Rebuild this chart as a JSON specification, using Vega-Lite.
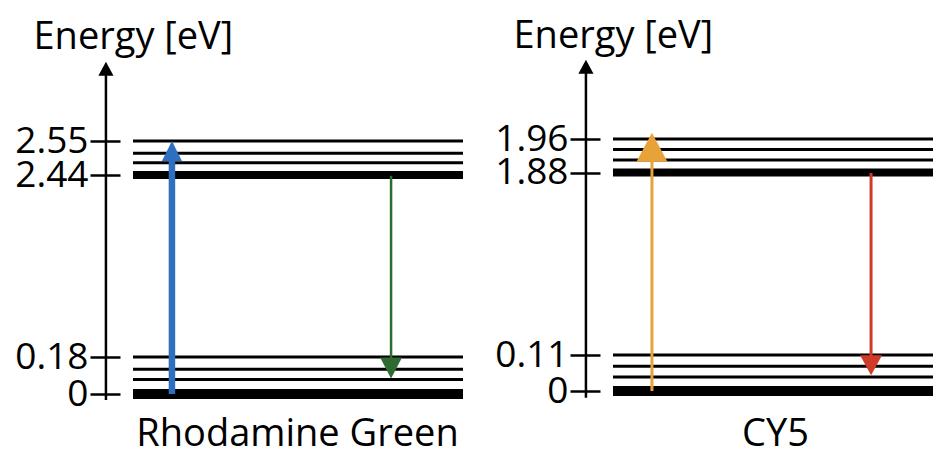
{
  "$schema": "https://vega.github.io/schema/vega-lite/v6.json",
  "background": "white",
  "padding": 0,
  "spacing": 0,
  "bounds": "flush",
  "config": {"view": {"stroke": null}, "font": "Open Sans"},
  "datasets": {
    "levels": [
      {"dye": "Rhodamine Green", "state": "S0", "vib": 0, "energy": 0},
      {"dye": "Rhodamine Green", "state": "S0", "vib": 1, "energy": 0.07},
      {"dye": "Rhodamine Green", "state": "S0", "vib": 2, "energy": 0.12},
      {"dye": "Rhodamine Green", "state": "S0", "vib": 3, "energy": 0.18},
      {"dye": "Rhodamine Green", "state": "S1", "vib": 0, "energy": 2.44},
      {"dye": "Rhodamine Green", "state": "S1", "vib": 1, "energy": 2.48},
      {"dye": "Rhodamine Green", "state": "S1", "vib": 2, "energy": 2.51},
      {"dye": "Rhodamine Green", "state": "S1", "vib": 3, "energy": 2.55},
      {"dye": "CY5", "state": "S0", "vib": 0, "energy": 0},
      {"dye": "CY5", "state": "S0", "vib": 1, "energy": 0.043},
      {"dye": "CY5", "state": "S0", "vib": 2, "energy": 0.076},
      {"dye": "CY5", "state": "S0", "vib": 3, "energy": 0.11},
      {"dye": "CY5", "state": "S1", "vib": 0, "energy": 1.88},
      {"dye": "CY5", "state": "S1", "vib": 1, "energy": 1.91},
      {"dye": "CY5", "state": "S1", "vib": 2, "energy": 1.935},
      {"dye": "CY5", "state": "S1", "vib": 3, "energy": 1.96}
    ],
    "transitions": [
      {"dye": "Rhodamine Green", "transition": "absorption", "from": 0, "to": 2.55},
      {"dye": "Rhodamine Green", "transition": "emission", "from": 2.43, "to": 0.075},
      {"dye": "CY5", "transition": "absorption", "from": 0, "to": 1.975},
      {"dye": "CY5", "transition": "emission", "from": 1.875, "to": 0.048}
    ]
  },
  "resolve": {
    "scale": {"x": "independent", "y": "independent"},
    "axis": {"x": "independent", "y": "independent"}
  },
  "hconcat": [
    {
      "width": 480,
      "height": 455,
      "layer": [
        {
          "data": {"name": "levels"},
          "transform": [{"filter": "datum.dye === 'Rhodamine Green'"}],
          "mark": {"type": "rule", "color": "black"},
          "encoding": {
            "x": {
              "datum": 0,
              "scale": {"domain": [0, 1], "range": [133, 463], "nice": false, "zero": false},
              "axis": {"orient": "bottom", "title": "Rhodamine Green", "domain": false, "ticks": false, "labels": false, "grid": false,
                "titleFontSize": 38, "titleFontWeight": "normal", "titleColor": "black", "titleFont": "Open Sans",
                "titleX": 297, "titleY": -10, "titleBaseline": "alphabetic"}
            },
            "x2": {"datum": 1},
            "y": {
              "field": "energy", "type": "quantitative",
              "scale": {"domain": [0, 0.18, 2.44, 2.55], "range": [394, 357, 175, 141], "nice": false, "zero": false},
              "axis": {"orient": "left", "offset": -120, "values": [0, 0.18, 2.44, 2.55], "labelExpr": "'' + datum.value",
                "domain": false, "grid": false, "ticks": true, "tickSize": 30, "tickWidth": 2.5, "tickColor": "black",
                "labelFontSize": 37, "labelFont": "Open Sans", "labelColor": "black", "labelPadding": 2,
                "labelOverlap": false, "labelBound": false, "labelFlush": false,
                "title": "Energy [eV]", "titleAngle": 0, "titleAlign": "left", "titleBaseline": "alphabetic",
                "titleX": -87, "titleY": 48, "titleFontSize": 38, "titleFontWeight": "normal", "titleColor": "black", "titleFont": "Open Sans"}
            },
            "strokeWidth": {
              "condition": [
                {"test": "datum.vib === 0 && datum.state === 'S0'", "value": 10},
                {"test": "datum.vib === 0", "value": 8}
              ],
              "value": 3
            }
          }
        },
        {
          "data": {"values": [{}]},
          "mark": {"type": "rule", "color": "black", "strokeWidth": 2.5},
          "encoding": {
            "x": {"datum": -0.082},
            "y": {"datum": -0.029},
            "y2": {"datum": 2.78}
          }
        },
        {
          "data": {"values": [{}]},
          "mark": {"type": "point", "shape": "M0,0L0.54,1L-0.54,1Z", "size": 784, "filled": true, "opacity": 1, "color": "black", "strokeWidth": 0},
          "encoding": {
            "x": {"datum": -0.082},
            "y": {"datum": 2.806}
          }
        },
        {
          "data": {"name": "transitions"},
          "transform": [{"filter": "datum.dye === 'Rhodamine Green' && datum.transition === 'absorption'"}],
          "mark": {"type": "rule", "color": "#2f6fc0", "strokeWidth": 6.5, "y2Offset": 12},
          "encoding": {
            "x": {"datum": 0.118},
            "y": {"field": "from", "type": "quantitative"},
            "y2": {"field": "to"}
          }
        },
        {
          "data": {"name": "transitions"},
          "transform": [{"filter": "datum.dye === 'Rhodamine Green' && datum.transition === 'absorption'"}],
          "mark": {"type": "point", "shape": "M0,0L0.5,1L-0.5,1Z", "size": 1600, "filled": true, "opacity": 1, "color": "#2f6fc0", "strokeWidth": 0},
          "encoding": {
            "x": {"datum": 0.118},
            "y": {"field": "to", "type": "quantitative"}
          }
        },
        {
          "data": {"name": "transitions"},
          "transform": [{"filter": "datum.dye === 'Rhodamine Green' && datum.transition === 'emission'"}],
          "mark": {"type": "rule", "color": "#2e6b30", "strokeWidth": 2.5, "y2Offset": -12},
          "encoding": {
            "x": {"datum": 0.782},
            "y": {"field": "from", "type": "quantitative"},
            "y2": {"field": "to"}
          }
        },
        {
          "data": {"name": "transitions"},
          "transform": [{"filter": "datum.dye === 'Rhodamine Green' && datum.transition === 'emission'"}],
          "mark": {"type": "point", "shape": "M0,0L0.52,-1L-0.52,-1Z", "size": 1764, "filled": true, "opacity": 1, "color": "#2e6b30", "strokeWidth": 0},
          "encoding": {
            "x": {"datum": 0.782},
            "y": {"field": "to", "type": "quantitative"}
          }
        }
      ]
    },
    {
      "width": 453,
      "height": 455,
      "layer": [
        {
          "data": {"name": "levels"},
          "transform": [{"filter": "datum.dye === 'CY5'"}],
          "mark": {"type": "rule", "color": "black"},
          "encoding": {
            "x": {
              "datum": 0,
              "scale": {"domain": [0, 1], "range": [133, 463], "nice": false, "zero": false},
              "axis": {"orient": "bottom", "title": "CY5", "domain": false, "ticks": false, "labels": false, "grid": false,
                "titleFontSize": 38, "titleFontWeight": "normal", "titleColor": "black", "titleFont": "Open Sans",
                "titleX": 295, "titleY": -10, "titleBaseline": "alphabetic"}
            },
            "x2": {"datum": 0.97},
            "y": {
              "field": "energy", "type": "quantitative",
              "scale": {"domain": [0, 0.11, 1.88, 1.96], "range": [391, 355, 172.5, 139], "nice": false, "zero": false},
              "axis": {"orient": "left", "offset": -120, "values": [0, 0.11, 1.88, 1.96], "labelExpr": "'' + datum.value",
                "domain": false, "grid": false, "ticks": true, "tickSize": 30, "tickWidth": 2.5, "tickColor": "black",
                "labelFontSize": 37, "labelFont": "Open Sans", "labelColor": "black", "labelPadding": 2,
                "labelOverlap": false, "labelBound": false, "labelFlush": false,
                "title": "Energy [eV]", "titleAngle": 0, "titleAlign": "left", "titleBaseline": "alphabetic",
                "titleX": -87, "titleY": 47, "titleFontSize": 38, "titleFontWeight": "normal", "titleColor": "black", "titleFont": "Open Sans"}
            },
            "strokeWidth": {
              "condition": [
                {"test": "datum.vib === 0 && datum.state === 'S0'", "value": 10},
                {"test": "datum.vib === 0", "value": 8}
              ],
              "value": 3
            }
          }
        },
        {
          "data": {"values": [{}]},
          "mark": {"type": "rule", "color": "black", "strokeWidth": 2.5},
          "encoding": {
            "x": {"datum": -0.082},
            "y": {"datum": -0.021},
            "y2": {"datum": 2.13}
          }
        },
        {
          "data": {"values": [{}]},
          "mark": {"type": "point", "shape": "M0,0L0.54,1L-0.54,1Z", "size": 784, "filled": true, "opacity": 1, "color": "black", "strokeWidth": 0},
          "encoding": {
            "x": {"datum": -0.082},
            "y": {"datum": 2.149}
          }
        },
        {
          "data": {"name": "transitions"},
          "transform": [{"filter": "datum.dye === 'CY5' && datum.transition === 'absorption'"}],
          "mark": {"type": "rule", "color": "#e8a23a", "strokeWidth": 3, "y2Offset": 12},
          "encoding": {
            "x": {"datum": 0.118},
            "y": {"field": "from", "type": "quantitative"},
            "y2": {"field": "to"}
          }
        },
        {
          "data": {"name": "transitions"},
          "transform": [{"filter": "datum.dye === 'CY5' && datum.transition === 'absorption'"}],
          "mark": {"type": "point", "shape": "M0,0L0.534,1L-0.534,1Z", "size": 3364, "filled": true, "opacity": 1, "color": "#e8a23a", "strokeWidth": 0},
          "encoding": {
            "x": {"datum": 0.118},
            "y": {"field": "to", "type": "quantitative"}
          }
        },
        {
          "data": {"name": "transitions"},
          "transform": [{"filter": "datum.dye === 'CY5' && datum.transition === 'emission'"}],
          "mark": {"type": "rule", "color": "#d03b27", "strokeWidth": 3, "y2Offset": -12},
          "encoding": {
            "x": {"datum": 0.782},
            "y": {"field": "from", "type": "quantitative"},
            "y2": {"field": "to"}
          }
        },
        {
          "data": {"name": "transitions"},
          "transform": [{"filter": "datum.dye === 'CY5' && datum.transition === 'emission'"}],
          "mark": {"type": "point", "shape": "M0,0L0.55,-1L-0.55,-1Z", "size": 1600, "filled": true, "opacity": 1, "color": "#d03b27", "strokeWidth": 0},
          "encoding": {
            "x": {"datum": 0.782},
            "y": {"field": "to", "type": "quantitative"}
          }
        }
      ]
    }
  ]
}
